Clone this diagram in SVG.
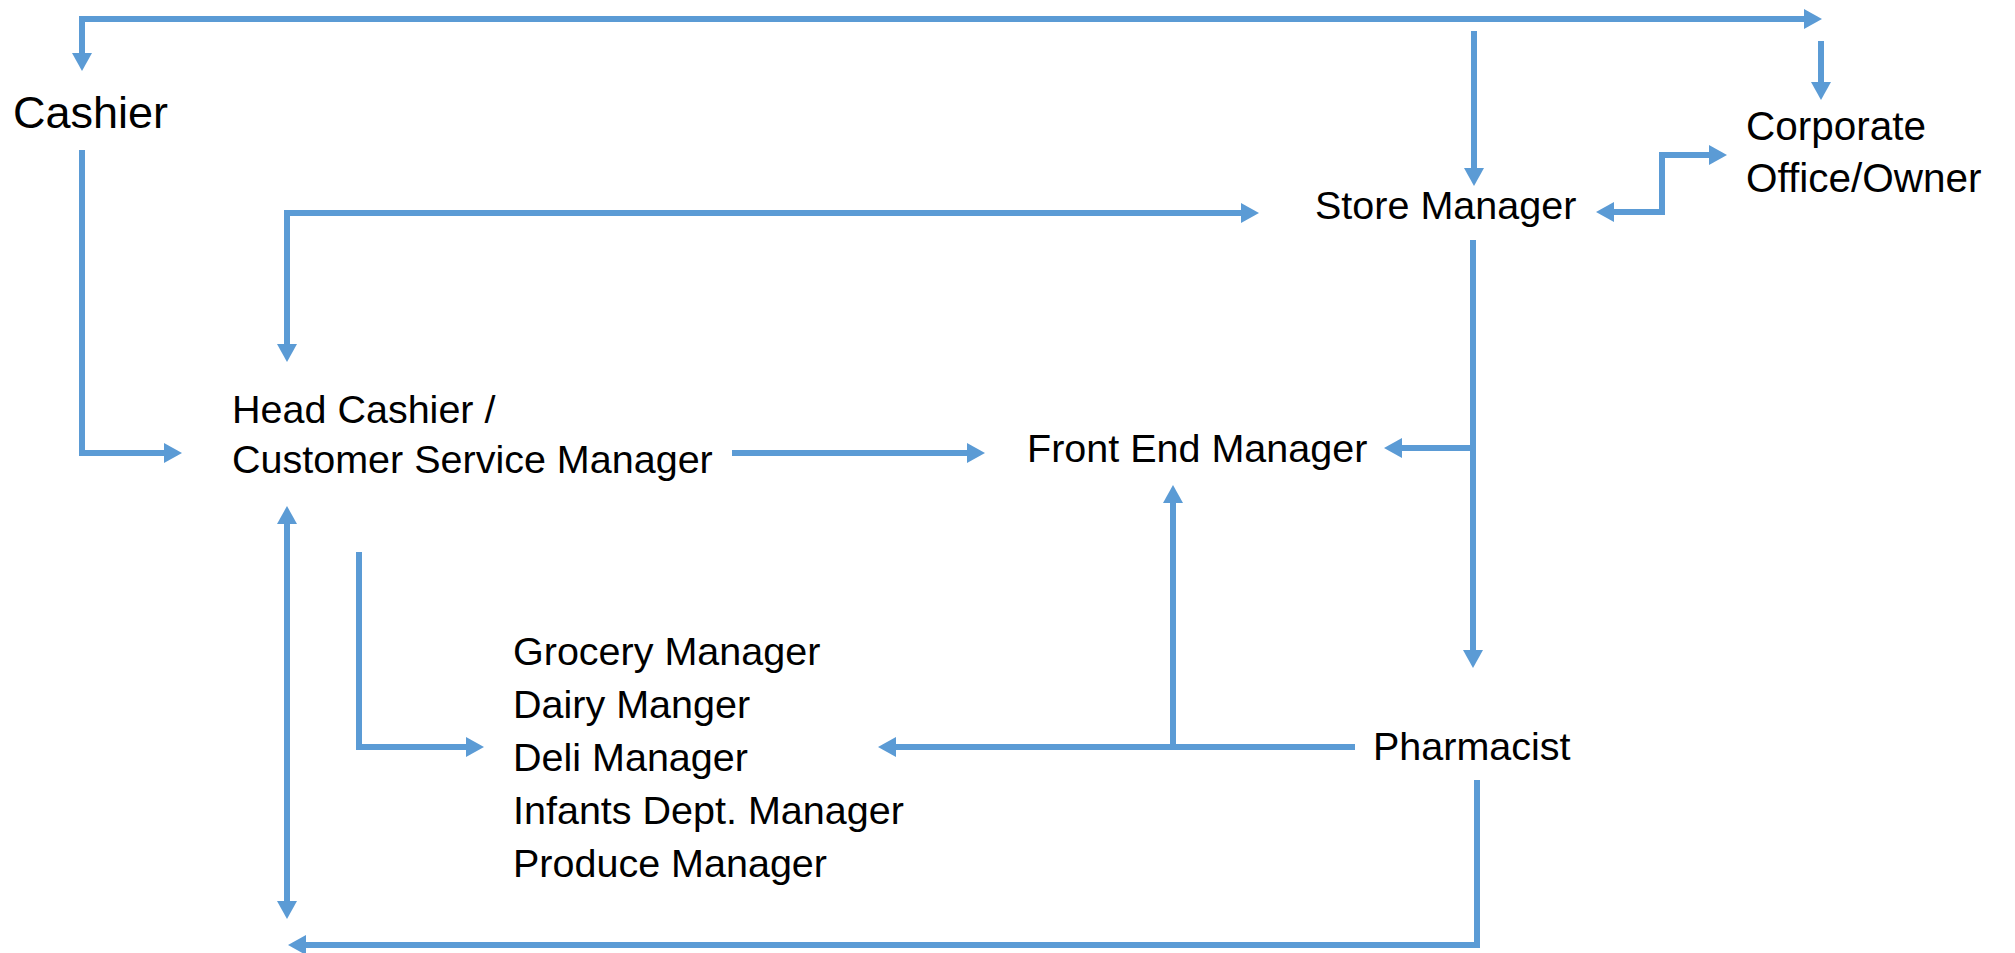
<svg xmlns="http://www.w3.org/2000/svg" width="2015" height="953" viewBox="0 0 2015 953">
<style>
.lbl{font-family:"Liberation Sans",Arial,sans-serif;font-size:39.5px;fill:#000}
.c{fill:none;stroke:#5B9BD5;stroke-width:6;stroke-linejoin:miter}
</style>
<defs>
<marker id="ah" markerUnits="userSpaceOnUse" markerWidth="18" markerHeight="20" refX="0" refY="10" orient="auto-start-reverse" viewBox="0 0 18 20">
<path d="M0,0 L18,10 L0,20 Z" fill="#5B9BD5"/>
</marker>
</defs>
<rect width="2015" height="953" fill="#fff"/>
<g id="connectors">
<path class="c" d="M1804,19 L82,19 L82,53" marker-start="url(#ah)" marker-end="url(#ah)"/>
<path class="c" d="M1474,31 L1474,168" marker-end="url(#ah)"/>
<path class="c" d="M1821,41 L1821,82" marker-end="url(#ah)"/>
<path class="c" d="M1614,212 L1662,212 L1662,155 L1709,155" marker-start="url(#ah)" marker-end="url(#ah)"/>
<path class="c" d="M1241,213 L287,213 L287,344" marker-start="url(#ah)" marker-end="url(#ah)"/>
<path class="c" d="M82,150 L82,453 L164,453" marker-end="url(#ah)"/>
<path class="c" d="M732,453 L967,453" marker-end="url(#ah)"/>
<path class="c" d="M1473,240 L1473,650" marker-end="url(#ah)"/>
<path class="c" d="M1473,448 L1402,448" marker-end="url(#ah)"/>
<path class="c" d="M287,524 L287,901" marker-start="url(#ah)" marker-end="url(#ah)"/>
<path class="c" d="M359,552 L359,747 L466,747" marker-end="url(#ah)"/>
<path class="c" d="M1355,747 L896,747" marker-end="url(#ah)"/>
<path class="c" d="M1173,747 L1173,503" marker-end="url(#ah)"/>
<path class="c" d="M1477,780 L1477,945 L306,945" marker-end="url(#ah)"/>
</g>
<g id="cashier"><text class="lbl" x="13" y="128" style="font-size:45px">Cashier</text></g>
<g id="corporate"><text class="lbl" x="1746" y="140" style="font-size:40.5px">Corporate</text><text class="lbl" x="1746" y="192" style="font-size:40.5px">Office/Owner</text></g>
<g id="store-manager"><text class="lbl" x="1315" y="219">Store Manager</text></g>
<g id="head-cashier"><text class="lbl" x="232" y="423">Head Cashier /</text><text class="lbl" x="232" y="473">Customer Service Manager</text></g>
<g id="front-end-manager"><text class="lbl" x="1027" y="462">Front End Manager</text></g>
<g id="department-managers">
<text class="lbl" x="513" y="665">Grocery Manager</text>
<text class="lbl" x="513" y="718">Dairy Manger</text>
<text class="lbl" x="513" y="771">Deli Manager</text>
<text class="lbl" x="513" y="824">Infants Dept. Manager</text>
<text class="lbl" x="513" y="877">Produce Manager</text>
</g>
<g id="pharmacist"><text class="lbl" x="1373" y="760">Pharmacist</text></g>
</svg>
